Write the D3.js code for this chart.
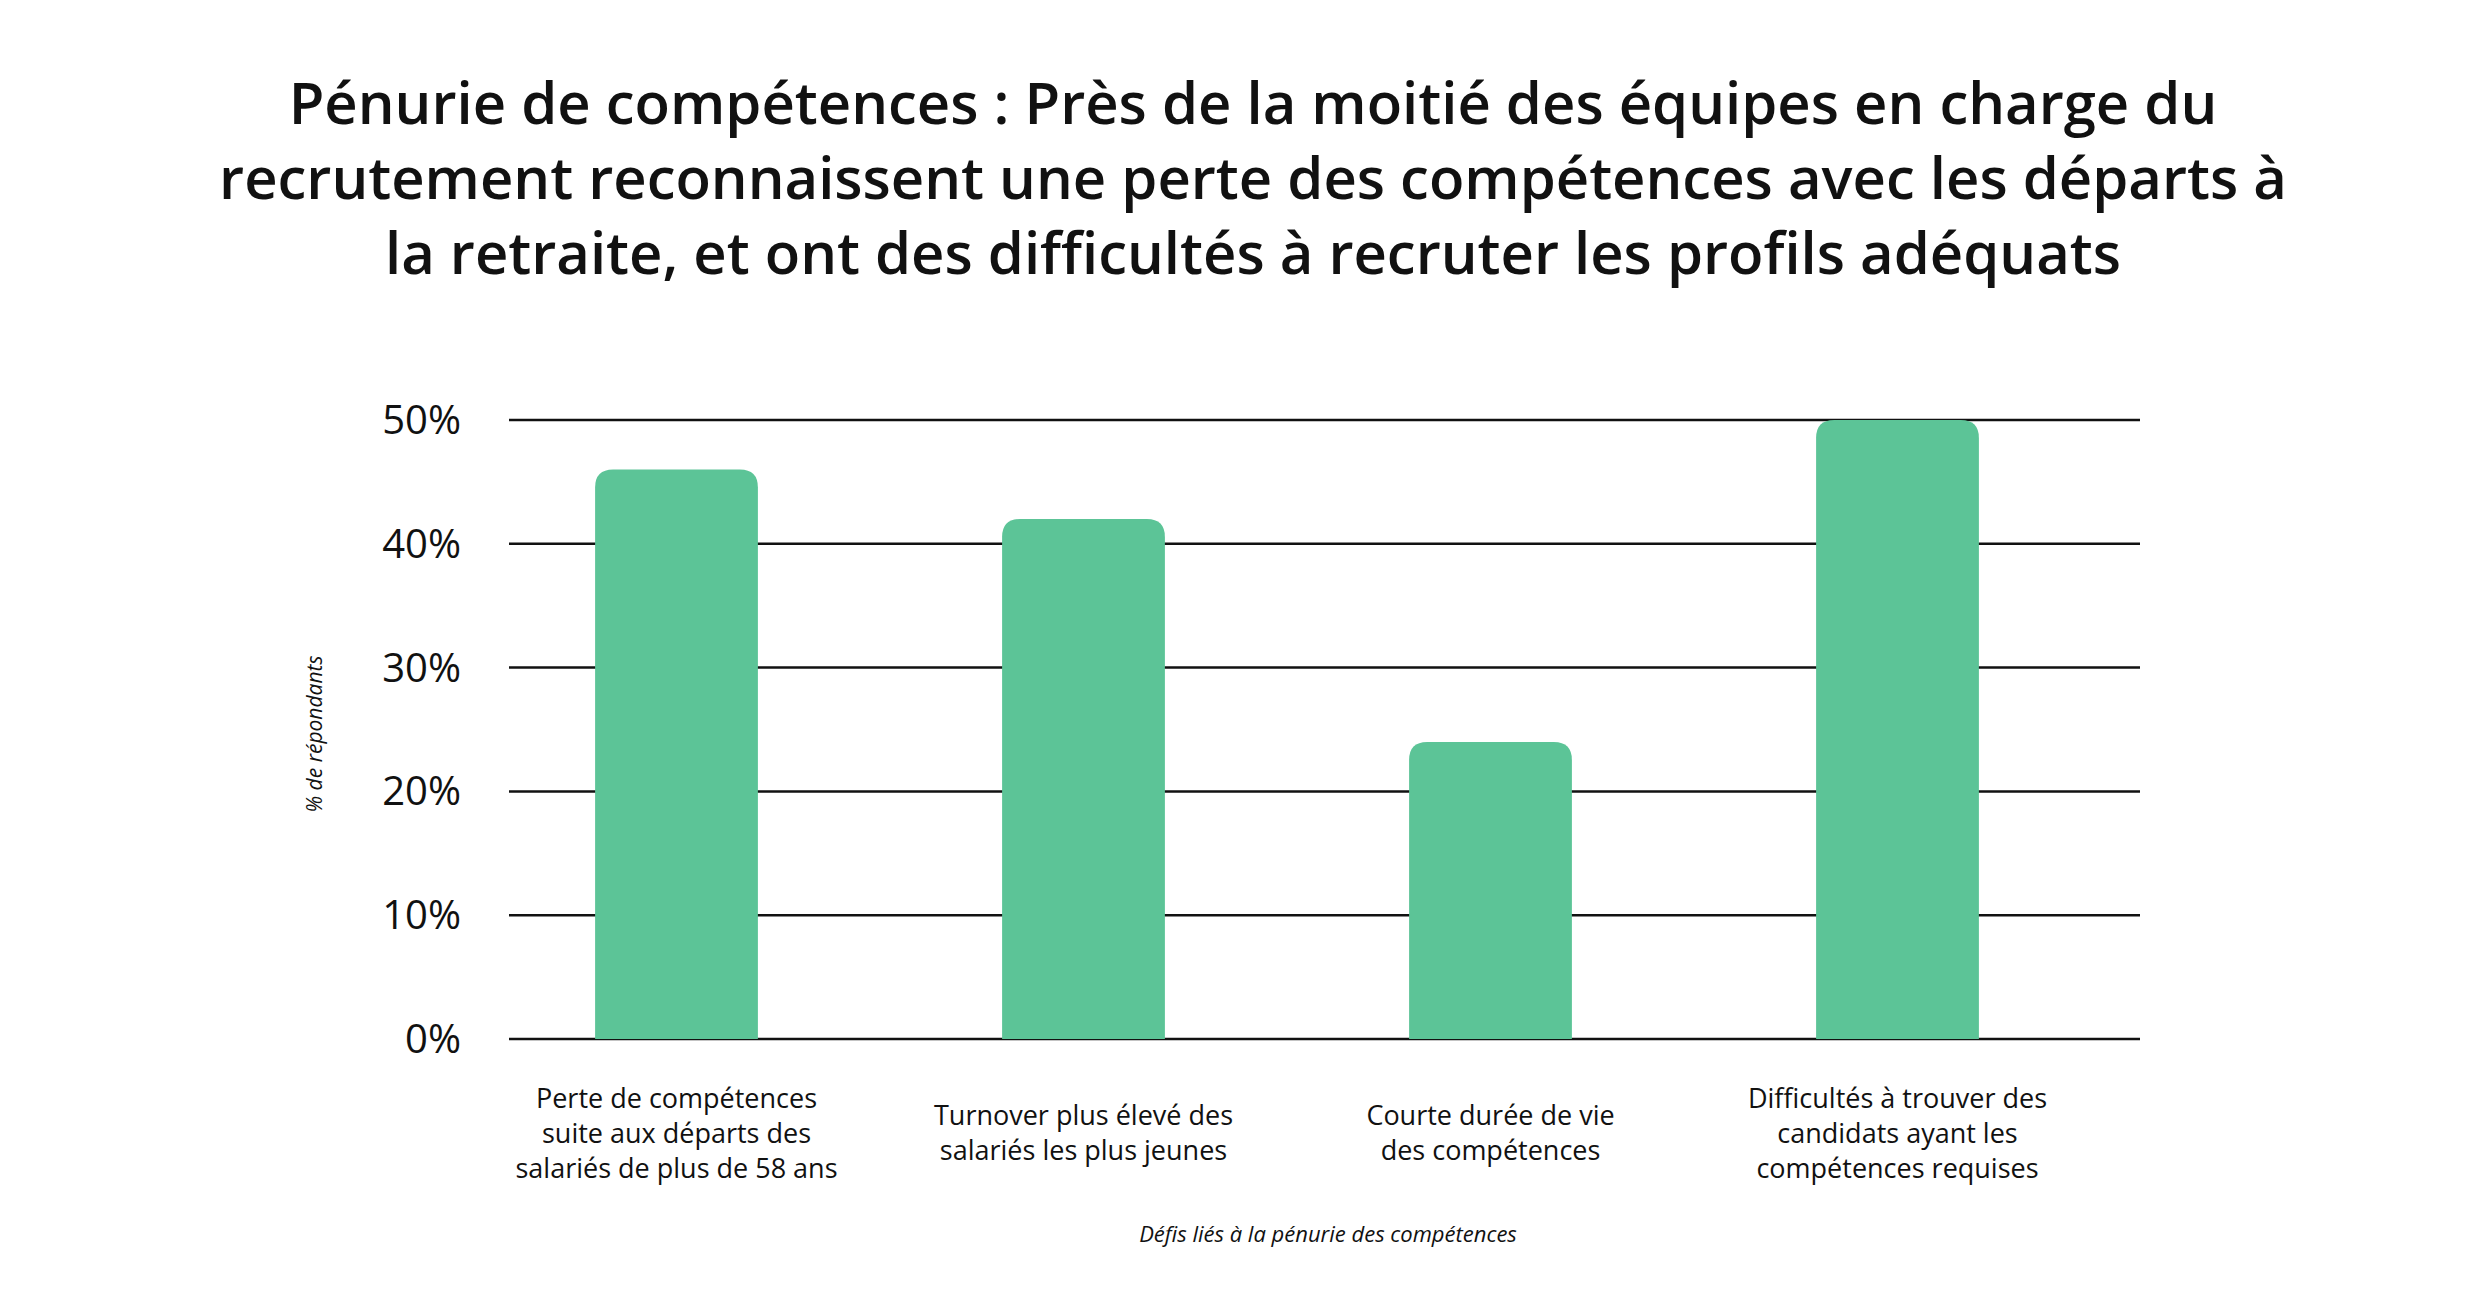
<!DOCTYPE html>
<html><head><meta charset="utf-8">
<script src="https://cdn.jsdelivr.net/npm/d3@7"></script>
<style>body{margin:0;background:#fff}</style></head>
<body><svg id="c" width="2490" height="1301"></svg>
<script>
const categories = ["Perte de compétences|suite aux départs des|salariés de plus de 58 ans","Turnover plus élevé des|salariés les plus jeunes","Courte durée de vie|des compétences","Difficultés à trouver des|candidats ayant les|compétences requises"];
const values = [46, 42, 24, 50];
const tickValues = [0, 10, 20, 30, 40, 50];
const titleLines = ["Pénurie de compétences : Près de la moitié des équipes en charge du","recrutement reconnaissent une perte des compétences avec les départs à","la retraite, et ont des difficultés à recruter les profils adéquats"];

const svg = d3.select("#c");
const L = 509, R = 2140, T = 420, B = 1039;
const x = d3.scaleBand().domain(categories).range([473, 2101]).paddingInner(0.6).paddingOuter(0.3);
const y = d3.scaleLinear().domain([0, 50]).range([B, T]);
const font = "'Open Sans', Lato, sans-serif";

svg.append("g").selectAll("text").data(titleLines).join("text")
  .attr("x", 1253).attr("y", (d,i)=>124+i*75).attr("text-anchor","middle")
  .attr("font-family", font).attr("font-weight", 600).attr("font-size", 58).attr("fill","#111").text(d=>d);

svg.append("g").selectAll("line").data(tickValues).join("line")
  .attr("x1", L).attr("x2", R).attr("y1", d=>y(d)).attr("y2", d=>y(d))
  .attr("stroke","#111").attr("stroke-width",2.5);
svg.append("g").selectAll("text").data(tickValues).join("text")
  .attr("x", 461).attr("y", d=>y(d)+14).attr("text-anchor","end")
  .attr("font-family", font).attr("font-size", 40).attr("fill","#111").text(d=>d+"%");

const r = 18;
svg.append("g").selectAll("path").data(values).join("path")
  .attr("fill","#5cc497")
  .attr("d",(d,i)=>{
    const x0 = x(categories[i]), w = x.bandwidth(), y0 = y(d), y1 = y(0);
    return `M${x0},${y1}V${y0+r}Q${x0},${y0} ${x0+r},${y0}H${x0+w-r}Q${x0+w},${y0} ${x0+w},${y0+r}V${y1}Z`;
  });

categories.forEach(c=>{
  const lines = c.split("|");
  const cx = x(c)+x.bandwidth()/2;
  const start = lines.length===3 ? 1108 : 1125;
  svg.append("g").selectAll("text").data(lines).join("text")
    .attr("x", cx).attr("y",(d,i)=>start+i*35).attr("text-anchor","middle")
    .attr("font-family", font).attr("font-size", 27).attr("fill","#111").text(d=>d);
});

svg.append("text").attr("x",1328).attr("y",1242).attr("text-anchor","middle")
  .attr("font-family", font).attr("font-style","italic").attr("font-size",22).attr("fill","#111")
  .text("Défis liés à la pénurie des compétences");
svg.append("text").attr("transform","translate(322,734) rotate(-90)").attr("text-anchor","middle")
  .attr("font-family", font).attr("font-style","italic").attr("font-size",21).attr("fill","#111")
  .text("% de répondants");
</script></body></html>
